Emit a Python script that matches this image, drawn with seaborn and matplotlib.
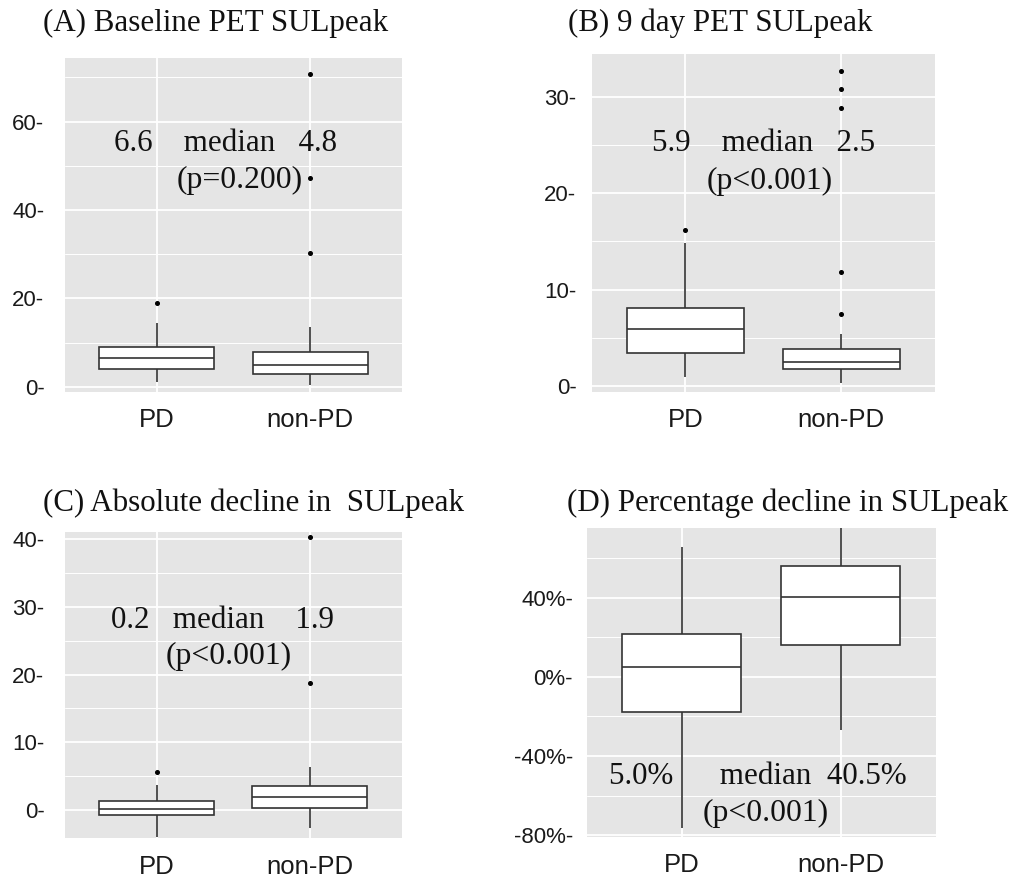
import numpy as np
import pandas as pd
import matplotlib
matplotlib.use("Agg")
import matplotlib.pyplot as plt
from matplotlib.ticker import FixedLocator, FuncFormatter
import seaborn as sns

# ---------------- data ----------------
groups = ["PD", "non-PD"]

# Panel A: Baseline PET SULpeak  [whisker low, Q1, median, Q3, whisker high]
a_pd_stats = [1.1, 3.9, 6.6, 8.9, 14.5]
a_pd_out = [18.9]
a_non_stats = [0.4, 2.8, 4.8, 7.8, 13.6]
a_non_out = [30.2, 47.2, 70.8]

# Panel B: 9 day PET SULpeak
b_pd_stats = [0.96, 3.4, 5.9, 8.1, 14.85]
b_pd_out = [16.2]
b_non_stats = [0.3, 1.73, 2.5, 3.83, 5.36]
b_non_out = [7.46, 11.85, 28.8, 30.85, 32.7]

# Panel C: Absolute decline in SULpeak
c_pd_stats = [-3.95, -0.8, 0.2, 1.33, 3.7]
c_pd_out = [5.65]
c_non_stats = [-2.6, 0.25, 1.9, 3.6, 6.3]
c_non_out = [18.7, 40.3]

# Panel D: Percentage decline in SULpeak (%)
d_pd_stats = [-76.6, -18.0, 5.0, 21.6, 65.7]
d_pd_out = []
d_non_stats = [-26.9, 16.0, 40.5, 55.9, 76.0]
d_non_out = []

titles = ["(A) Baseline PET SULpeak", "(B) 9 day PET SULpeak",
          "(C) Absolute decline in  SULpeak", "(D) Percentage decline in SULpeak"]
line1 = ["6.6    median   4.8", "5.9    median   2.5",
         "0.2   median    1.9", "5.0%      median  40.5%"]
line2 = ["(p=0.200)", "(p<0.001)", "(p<0.001)", "(p<0.001)"]
yticks = [[0, 20, 40, 60], [0, 10, 20, 30], [0, 10, 20, 30, 40], [-80, -40, 0, 40]]
yminor = [[10, 30, 50, 70], [5, 15, 25], [5, 15, 25, 35], [-60, -20, 20, 60]]


def sample_from_stats(stats, outliers):
    """Small sample whose box-plot statistics equal the read values."""
    lo, q1, med, q3, hi = stats
    k = len(outliers) + 1
    vals = [lo] + [q1] * k + [med] * k + [q3] * k + [hi] + list(outliers)
    return vals


def make_frame(pd_stats, pd_out, non_stats, non_out):
    v1 = sample_from_stats(pd_stats, pd_out)
    v2 = sample_from_stats(non_stats, non_out)
    return pd.DataFrame({"group": ["PD"] * len(v1) + ["non-PD"] * len(v2),
                         "value": v1 + v2})


frames = [make_frame(a_pd_stats, a_pd_out, a_non_stats, a_non_out),
          make_frame(b_pd_stats, b_pd_out, b_non_stats, b_non_out),
          make_frame(c_pd_stats, c_pd_out, c_non_stats, c_non_out),
          make_frame(d_pd_stats, d_pd_out, d_non_stats, d_non_out)]

# ---------------- layout ----------------
W, H = 1011, 880
# (left, top, right, bottom) in pixels
boxes_px = [(65, 58.3, 402, 391.7), (591.7, 54, 935, 391.7),
            (65, 531.7, 401.7, 838.3), (586.7, 528.3, 935.7, 836.7)]
ylims = [(-1.13, 74.3), (-0.59, 34.43), (-4.18, 41.08), (-80.8, 74.95)]
ypads = [15.8, 12.0, 15.8, 10.8]
title_pos = [(43, 23), (568, 23), (43, 503), (567, 503)]
txt1 = [(0.45, 55.1), (0.50, 25.15), (0.43, 28.0), (0.48, -50.5)]
txt2 = [(0.54, 46.7), (0.54, 21.2), (0.47, 22.6), (0.53, -69.0)]

sns.set_theme(style="darkgrid")
plt.rcParams["axes.unicode_minus"] = False
plt.rcParams["font.family"] = ["Liberation Sans", "DejaVu Sans"]

fig = plt.figure(figsize=(W / 100, H / 100), dpi=100)
fig.patch.set_facecolor("white")

serif = ["Liberation Serif", "DejaVu Serif"]
edge = "#333333"

for i, df in enumerate(frames):
    l, t, r, b = boxes_px[i]
    ax = fig.add_axes([l / W, 1 - b / H, (r - l) / W, (b - t) / H])
    ax.set_facecolor("#E5E5E5")
    sns.boxplot(data=df, x="group", y="value", order=groups, ax=ax,
                width=0.75, color="white", showcaps=False, whis=1.5,
                linecolor=edge, linewidth=1.2, saturation=1,
                flierprops=dict(marker="o", markersize=2.6,
                                markerfacecolor="black",
                                markeredgecolor="black"))
    for p in ax.patches:
        p.set_facecolor("white")
    ax.set_xlim(-0.6, 1.6)
    ax.set_ylim(*ylims[i])
    ax.yaxis.set_major_locator(FixedLocator(yticks[i]))
    ax.yaxis.set_minor_locator(FixedLocator(yminor[i]))
    if i == 3:
        fmt = FuncFormatter(lambda v, p: f"{v:.0f}%-")
    else:
        fmt = FuncFormatter(lambda v, p: f"{v:.0f}-")
    ax.yaxis.set_major_formatter(fmt)
    ax.grid(which="major", color="white", linewidth=1.3)
    ax.grid(which="minor", axis="y", color="white", linewidth=0.7)
    ax.tick_params(axis="y", which="both", length=0, pad=ypads[i] - 1,
                   labelsize=16, labelcolor="#1a1a1a")
    ax.tick_params(axis="x", length=0, pad=12, labelsize=18.5,
                   labelcolor="#1a1a1a")
    ax.set_xlabel("")
    ax.set_ylabel("")
    for s in ax.spines.values():
        s.set_visible(False)
    ax.set_axisbelow(True)

    ax.text(txt1[i][0], txt1[i][1], line1[i], ha="center", va="center",
            family=serif, fontsize=22.3, color="#111111")
    ax.text(txt2[i][0], txt2[i][1], line2[i], ha="center", va="center",
            family=serif, fontsize=22.8, color="#111111")

    fig.text(title_pos[i][0] / W, 1 - title_pos[i][1] / H, titles[i],
             ha="left", va="center", family=serif, fontsize=22.3,
             color="#111111")

fig.savefig("out.png", dpi=100, facecolor="white")
